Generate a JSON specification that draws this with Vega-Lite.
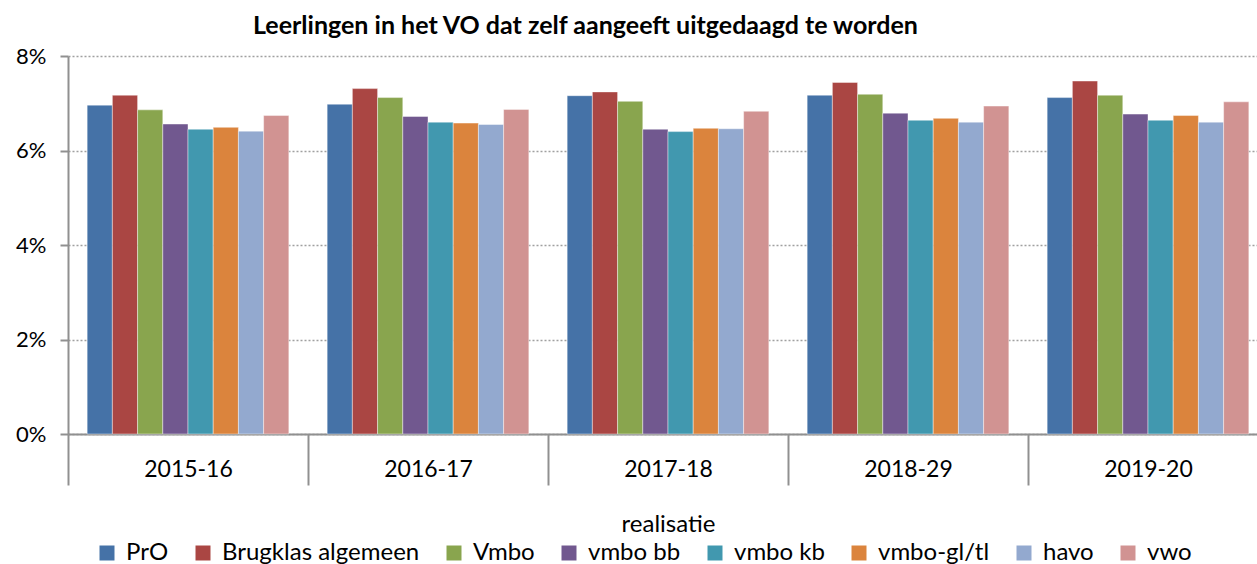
{
  "$schema": "https://vega.github.io/schema/vega-lite/v6.json",
  "width": 1200,
  "height": 378,
  "padding": {"left": 12, "top": 14, "right": 5, "bottom": 5},
  "background": "white",
  "title": {
    "text": "Leerlingen in het VO dat zelf aangeeft uitgedaagd te worden",
    "font": "Lato",
    "fontSize": 25,
    "fontWeight": "bold",
    "color": "#000000",
    "anchor": "start",
    "dx": 241,
    "offset": 6
  },
  "config": {
    "view": {"stroke": null},
    "font": "Lato"
  },
  "data": {
    "values": [
      {"year": "2015-16", "type": "PrO", "value": 0.0696},
      {"year": "2015-16", "type": "Brugklas algemeen", "value": 0.0717},
      {"year": "2015-16", "type": "Vmbo", "value": 0.0686},
      {"year": "2015-16", "type": "vmbo bb", "value": 0.0656},
      {"year": "2015-16", "type": "vmbo kb", "value": 0.0645},
      {"year": "2015-16", "type": "vmbo-gl/tl", "value": 0.0649},
      {"year": "2015-16", "type": "havo", "value": 0.0641},
      {"year": "2015-16", "type": "vwo", "value": 0.0674},
      {"year": "2016-17", "type": "PrO", "value": 0.0698},
      {"year": "2016-17", "type": "Brugklas algemeen", "value": 0.0731},
      {"year": "2016-17", "type": "Vmbo", "value": 0.0712},
      {"year": "2016-17", "type": "vmbo bb", "value": 0.0672},
      {"year": "2016-17", "type": "vmbo kb", "value": 0.0660},
      {"year": "2016-17", "type": "vmbo-gl/tl", "value": 0.0658},
      {"year": "2016-17", "type": "havo", "value": 0.0655},
      {"year": "2016-17", "type": "vwo", "value": 0.0687},
      {"year": "2017-18", "type": "PrO", "value": 0.0716},
      {"year": "2017-18", "type": "Brugklas algemeen", "value": 0.0724},
      {"year": "2017-18", "type": "Vmbo", "value": 0.0704},
      {"year": "2017-18", "type": "vmbo bb", "value": 0.0645},
      {"year": "2017-18", "type": "vmbo kb", "value": 0.0640},
      {"year": "2017-18", "type": "vmbo-gl/tl", "value": 0.0647},
      {"year": "2017-18", "type": "havo", "value": 0.0646},
      {"year": "2017-18", "type": "vwo", "value": 0.0683},
      {"year": "2018-29", "type": "PrO", "value": 0.0717},
      {"year": "2018-29", "type": "Brugklas algemeen", "value": 0.0744},
      {"year": "2018-29", "type": "Vmbo", "value": 0.0719},
      {"year": "2018-29", "type": "vmbo bb", "value": 0.0679},
      {"year": "2018-29", "type": "vmbo kb", "value": 0.0664},
      {"year": "2018-29", "type": "vmbo-gl/tl", "value": 0.0668},
      {"year": "2018-29", "type": "havo", "value": 0.0660},
      {"year": "2018-29", "type": "vwo", "value": 0.0694},
      {"year": "2019-20", "type": "PrO", "value": 0.0712},
      {"year": "2019-20", "type": "Brugklas algemeen", "value": 0.0747},
      {"year": "2019-20", "type": "Vmbo", "value": 0.0717},
      {"year": "2019-20", "type": "vmbo bb", "value": 0.0677},
      {"year": "2019-20", "type": "vmbo kb", "value": 0.0664},
      {"year": "2019-20", "type": "vmbo-gl/tl", "value": 0.0674},
      {"year": "2019-20", "type": "havo", "value": 0.0660},
      {"year": "2019-20", "type": "vwo", "value": 0.0703}
    ]
  },
  "mark": {"type": "bar", "stroke": "white", "strokeWidth": 0.6, "strokeOpacity": 0.7},
  "encoding": {
    "x": {
      "field": "year",
      "type": "nominal",
      "sort": null,
      "scale": {"paddingInner": 0, "paddingOuter": 0},
      "axis": {
        "title": "realisatie",
        "titleFont": "Lato",
        "titleFontSize": 24,
        "titleFontWeight": "normal",
        "titleColor": "#000000",
        "titlePadding": 26,
        "labelAngle": 0,
        "labelFont": "Lato",
        "labelFontSize": 23,
        "labelColor": "#000000",
        "labelPadding": -27,
        "tickBand": "extent",
        "tickSize": 51,
        "tickWidth": 2,
        "tickColor": "#909090",
        "domainColor": "#909090",
        "domainWidth": 2,
        "grid": false
      }
    },
    "xOffset": {
      "field": "type",
      "type": "nominal",
      "sort": ["PrO", "Brugklas algemeen", "Vmbo", "vmbo bb", "vmbo kb", "vmbo-gl/tl", "havo", "vwo"],
      "scale": {"paddingInner": 0, "paddingOuter": 0.76}
    },
    "y": {
      "field": "value",
      "type": "quantitative",
      "scale": {"domain": [0, 0.08], "nice": false},
      "axis": {
        "title": null,
        "values": [0, 0.02, 0.04, 0.06, 0.08],
        "format": ".0%",
        "labelFont": "Lato",
        "labelFontSize": 22,
        "labelColor": "#000000",
        "labelPadding": 14,
        "tickSize": 8,
        "tickWidth": 2,
        "tickColor": "#909090",
        "domainColor": "#909090",
        "domainWidth": 2,
        "gridColor": "#a0a0a0",
        "gridWidth": 1.5,
        "gridDash": [2, 2],
        "minExtent": 56,
        "maxExtent": 56
      }
    },
    "color": {
      "field": "type",
      "type": "nominal",
      "sort": ["PrO", "Brugklas algemeen", "Vmbo", "vmbo bb", "vmbo kb", "vmbo-gl/tl", "havo", "vwo"],
      "scale": {
        "domain": ["PrO", "Brugklas algemeen", "Vmbo", "vmbo bb", "vmbo kb", "vmbo-gl/tl", "havo", "vwo"],
        "range": ["#4572A7", "#AA4643", "#89A54E", "#71588F", "#4198AF", "#DB843D", "#93A9CF", "#D19392"]
      },
      "legend": {
        "title": null,
        "orient": "none",
        "legendX": 27,
        "legendY": 485,
        "direction": "horizontal",
        "symbolType": "square",
        "symbolSize": 225,
        "symbolStrokeWidth": 0,
        "labelFont": "Lato",
        "labelFontSize": 24,
        "labelColor": "#000000",
        "labelLimit": 0,
        "labelOffset": 7,
        "columnPadding": 22
      }
    }
  }
}
